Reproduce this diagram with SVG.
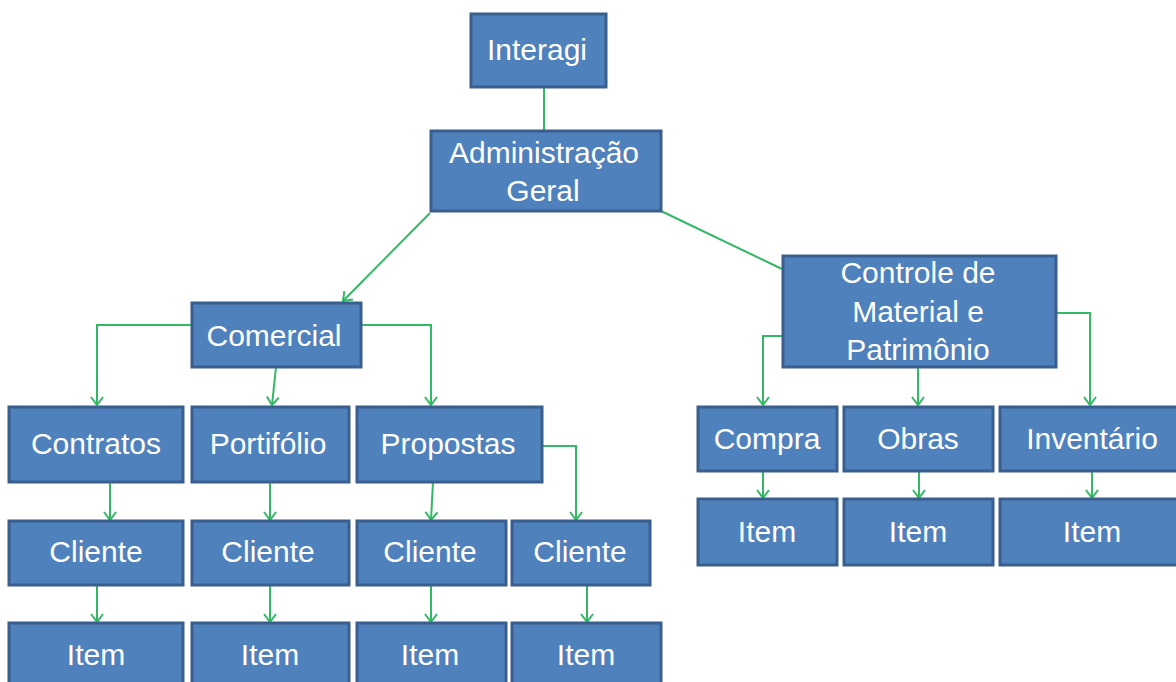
<svg xmlns="http://www.w3.org/2000/svg" width="1176" height="682" viewBox="0 0 1176 682">
<style>
.box{fill:#4F81BD;stroke:#3A5F8E;stroke-width:3}
.t{font-family:"Liberation Sans",Arial,sans-serif;font-size:30px;fill:#FFFFFF;text-anchor:middle}
.c{fill:none;stroke:#33B865;stroke-width:2}
</style>
<defs>
<marker id="ah" markerUnits="userSpaceOnUse" viewBox="-1 -7 11 14" refX="8" refY="0" markerWidth="11" markerHeight="14" orient="auto">
<path d="M0,-6 L8,0 L0,6" fill="none" stroke="#33B865" stroke-width="2"/>
</marker>
</defs>
<rect width="1176" height="682" fill="#FFFFFF"/>
<g id="connectors">
<path class="c" d="M544,87 L544,131"/>
<path class="c" d="M430,213 L343,301" marker-end="url(#ah)"/>
<path class="c" d="M661,211 L782,269"/>
<path class="c" d="M192,325 L97,325 L97,405" marker-end="url(#ah)"/>
<path class="c" d="M276,367 L272,405" marker-end="url(#ah)"/>
<path class="c" d="M361,325 L431,325 L431,405" marker-end="url(#ah)"/>
<path class="c" d="M110,482 L110,520" marker-end="url(#ah)"/>
<path class="c" d="M270,482 L270,520" marker-end="url(#ah)"/>
<path class="c" d="M433,482 L431,520" marker-end="url(#ah)"/>
<path class="c" d="M542,446 L576,446 L576,520" marker-end="url(#ah)"/>
<path class="c" d="M97,585 L97,622" marker-end="url(#ah)"/>
<path class="c" d="M270,585 L270,622" marker-end="url(#ah)"/>
<path class="c" d="M431,585 L431,622" marker-end="url(#ah)"/>
<path class="c" d="M587,585 L587,622" marker-end="url(#ah)"/>
<path class="c" d="M783,336 L763,336 L763,405" marker-end="url(#ah)"/>
<path class="c" d="M918,367 L918,405" marker-end="url(#ah)"/>
<path class="c" d="M1056,313 L1090,313 L1090,405" marker-end="url(#ah)"/>
<path class="c" d="M763,471 L763,498" marker-end="url(#ah)"/>
<path class="c" d="M919,471 L919,498" marker-end="url(#ah)"/>
<path class="c" d="M1092,471 L1092,498" marker-end="url(#ah)"/>
</g>
<g id="interagi"><rect class="box" x="471" y="14" width="135" height="73"/><text class="t" x="537" y="60">Interagi</text></g>
<g id="admin"><rect class="box" x="431" y="131" width="230" height="80"/><text class="t" x="544" y="163">Administração</text><text class="t" x="543" y="201">Geral</text></g>
<g id="comercial"><rect class="box" x="192" y="303" width="169" height="64"/><text class="t" x="274" y="346">Comercial</text></g>
<g id="controle"><rect class="box" x="783" y="256" width="273" height="111"/><text class="t" x="918" y="283">Controle de</text><text class="t" x="918" y="322">Material e</text><text class="t" x="918" y="360">Patrimônio</text></g>
<g id="contratos"><rect class="box" x="9" y="407" width="174" height="75"/><text class="t" x="96" y="454">Contratos</text></g>
<g id="portifolio"><rect class="box" x="192" y="407" width="157" height="75"/><text class="t" x="268" y="454">Portifólio</text></g>
<g id="propostas"><rect class="box" x="357" y="407" width="185" height="75"/><text class="t" x="448" y="454">Propostas</text></g>
<g id="cliente1"><rect class="box" x="9" y="521" width="174" height="64"/><text class="t" x="96" y="562">Cliente</text></g>
<g id="cliente2"><rect class="box" x="192" y="521" width="157" height="64"/><text class="t" x="268" y="562">Cliente</text></g>
<g id="cliente3"><rect class="box" x="357" y="521" width="149" height="64"/><text class="t" x="430" y="562">Cliente</text></g>
<g id="cliente4"><rect class="box" x="512" y="521" width="138" height="64"/><text class="t" x="580" y="562">Cliente</text></g>
<g id="item1"><rect class="box" x="9" y="623" width="174" height="70"/><text class="t" x="96" y="665">Item</text></g>
<g id="item2"><rect class="box" x="192" y="623" width="157" height="70"/><text class="t" x="270" y="665">Item</text></g>
<g id="item3"><rect class="box" x="357" y="623" width="149" height="70"/><text class="t" x="430" y="665">Item</text></g>
<g id="item4"><rect class="box" x="512" y="623" width="149" height="70"/><text class="t" x="586" y="665">Item</text></g>
<g id="compra"><rect class="box" x="698" y="407" width="139" height="64"/><text class="t" x="767" y="449">Compra</text></g>
<g id="obras"><rect class="box" x="844" y="407" width="149" height="64"/><text class="t" x="918" y="449">Obras</text></g>
<g id="inventario"><rect class="box" x="1000" y="407" width="184" height="64"/><text class="t" x="1092" y="449">Inventário</text></g>
<g id="item5"><rect class="box" x="698" y="499" width="139" height="66"/><text class="t" x="767" y="542">Item</text></g>
<g id="item6"><rect class="box" x="844" y="499" width="149" height="66"/><text class="t" x="918" y="542">Item</text></g>
<g id="item7"><rect class="box" x="1000" y="499" width="184" height="66"/><text class="t" x="1092" y="542">Item</text></g>
</svg>
